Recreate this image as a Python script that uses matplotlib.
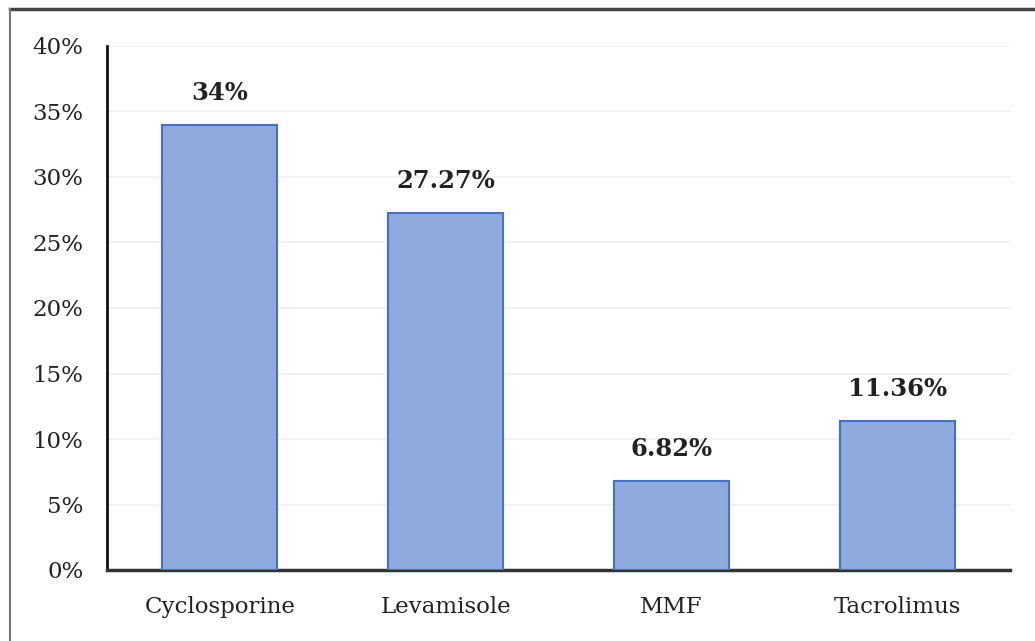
import matplotlib.pyplot as plt
from matplotlib.lines import Line2D
from matplotlib.ticker import FuncFormatter

# drug usage share (%)
drugs = ["Cyclosporine", "Levamisole", "MMF", "Tacrolimus"]
share = [34, 27.27, 6.82, 11.36]
share_labels = ["34%", "27.27%", "6.82%", "11.36%"]

plt.rcParams["font.family"] = ["DejaVu Serif"]

fig = plt.figure(figsize=(10.35, 6.41), dpi=100)
ax = fig.add_axes([107 / 1035, 1 - 570 / 641, 903 / 1035, 524 / 641])

x = range(len(drugs))
ax.bar(x, share, width=0.51, color="#8FAADC", edgecolor="#4472C4", linewidth=1.5, zorder=3)

for i, v in enumerate(share):
    ax.annotate(share_labels[i], (i, v), xytext=(0, 23), textcoords="offset points",
                ha="center", va="center", fontsize=17.5, fontweight="bold", color="#222222")

ax.set_xlim(-0.5, 3.5)
ax.set_ylim(0, 40)
ax.set_yticks(range(0, 41, 5))
ax.yaxis.set_major_formatter(FuncFormatter(lambda v, p: "{:.0f}%".format(v)))
ax.set_xticks(list(x))
ax.set_xticklabels(drugs)
ax.tick_params(axis="both", length=0, labelsize=16.5, colors="#222222")
ax.tick_params(axis="y", pad=17)
ax.tick_params(axis="x", pad=19)

ax.grid(axis="y", color="#EFEFEF", linewidth=1.2, zorder=0)
for s in ["top", "right"]:
    ax.spines[s].set_visible(False)
ax.spines["left"].set_linewidth(2)
ax.spines["bottom"].set_linewidth(2.5)
ax.spines["left"].set_color("#111111")
ax.spines["bottom"].set_color("#333333")

# frame around the figure (top and left edge)
fig.add_artist(Line2D([10 / 1035, 1], [1 - 9 / 641, 1 - 9 / 641], color="#444444", linewidth=2.5, transform=fig.transFigure))
fig.add_artist(Line2D([10 / 1035, 10 / 1035], [0, 1 - 9 / 641], color="#777777", linewidth=1.5, transform=fig.transFigure))

fig.savefig("out.png", dpi=100)
